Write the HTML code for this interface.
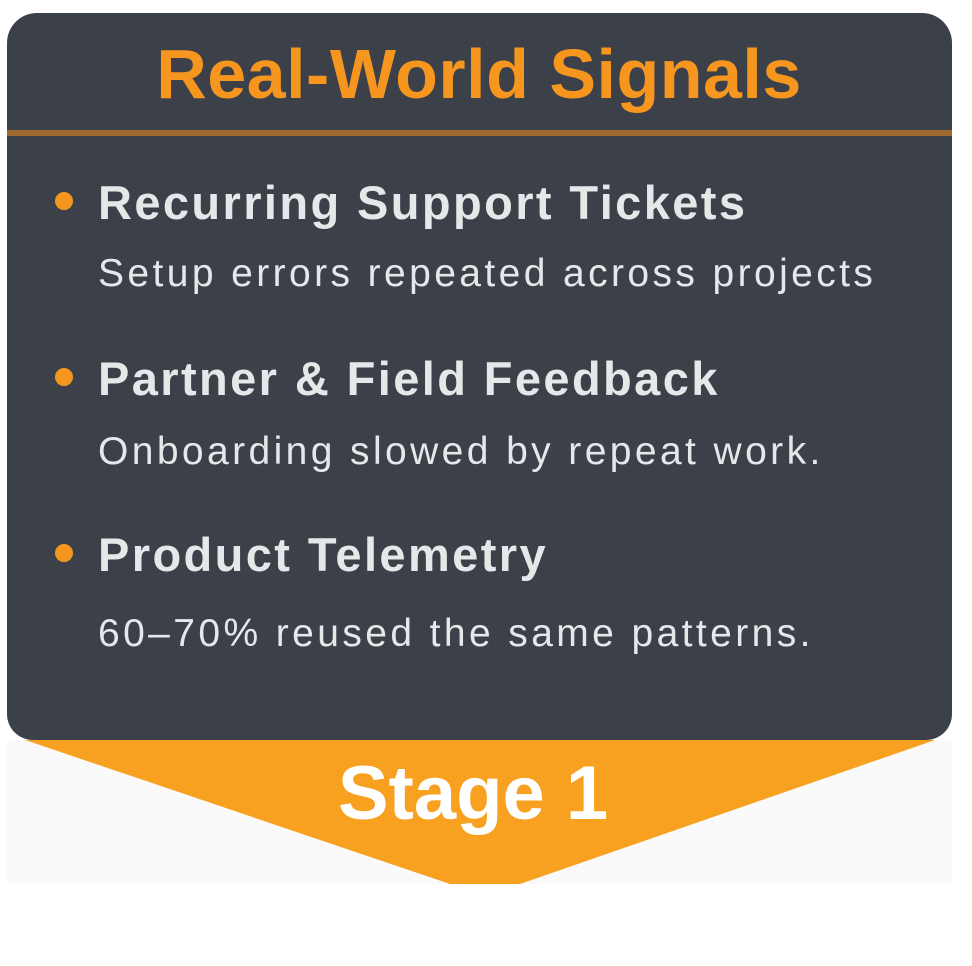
<!DOCTYPE html>
<html><head><style>
html,body{margin:0;padding:0;background:#fff;}
body{width:972px;height:966px;position:relative;overflow:hidden;font-family:"Liberation Sans",sans-serif;}
.bg{position:absolute;left:7px;top:740px;width:945px;height:144px;background:#fafafa;}
.card{position:absolute;left:7px;top:13px;width:945px;height:727px;background:#3c4048;border-radius:30px 30px 26px 26px;}
.line{position:absolute;left:7px;top:130px;width:945px;height:6px;background:#a06a30;}
.t{position:absolute;white-space:nowrap;}
.title{left:0;width:958px;text-align:center;top:34px;font-size:70px;font-weight:bold;color:#f7961f;letter-spacing:0.5px;}
.h{left:98px;font-size:47px;font-weight:bold;color:#e6e7e9;letter-spacing:2.4px;}
.s{left:98px;font-size:39px;color:#e6e7e9;letter-spacing:3.4px;}
.dot{position:absolute;left:55px;width:18px;height:18px;border-radius:50%;background:#f7961f;}
</style></head><body>
<div class="bg"></div>
<svg style="position:absolute;left:0;top:0" width="972" height="966"><polygon points="25,740 935,740 520,884 450,884" fill="#f8a01f"/></svg>
<div class="card"></div>
<div class="line"></div>
<div class="t title">Real-World Signals</div>
<div class="dot" style="top:192px"></div>
<div class="t h" style="top:175px">Recurring Support Tickets</div>
<div class="t s" style="top:252px">Setup errors repeated across projects</div>
<div class="dot" style="top:368px"></div>
<div class="t h" style="top:351px">Partner &amp; Field Feedback</div>
<div class="t s" style="top:430px">Onboarding slowed by repeat work.</div>
<div class="dot" style="top:544px"></div>
<div class="t h" style="top:527px">Product Telemetry</div>
<div class="t s" style="top:612px">60–70% reused the same patterns.</div>
<div class="t" style="left:0;width:946px;text-align:center;top:750px;font-size:76px;font-weight:bold;color:#fff;">Stage 1</div>
</body></html>
